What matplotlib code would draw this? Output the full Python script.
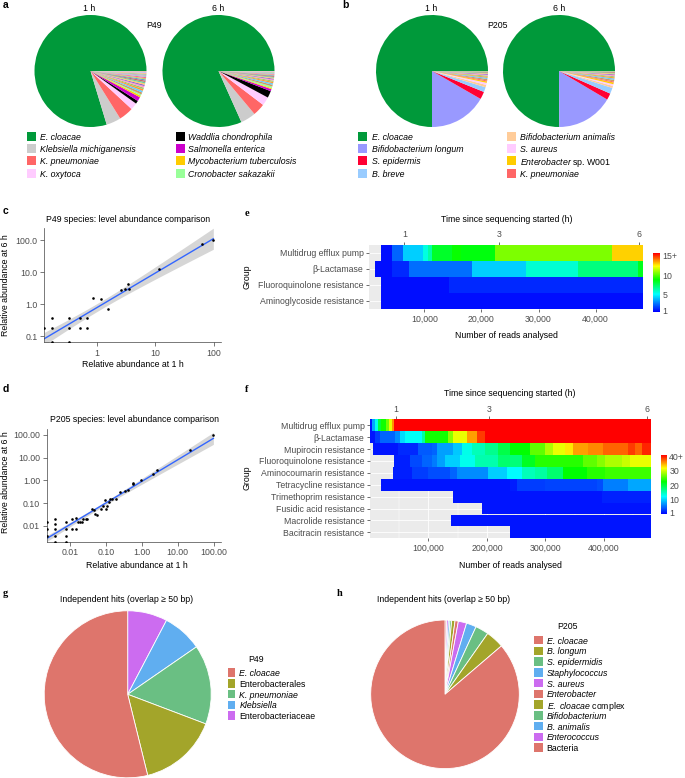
import numpy as np
import matplotlib
matplotlib.use('Agg')
from matplotlib import pyplot as plt
from matplotlib.cm import ScalarMappable
from matplotlib.colors import LinearSegmentedColormap, Normalize
from matplotlib.patches import Rectangle
from matplotlib.ticker import FuncFormatter, NullLocator

# ---------------- data ----------------

# a: P49 species share (%) at 1 h and 6 h
p49_species = ['E. cloacae', 'Klebsiella michiganensis', 'K. pneumoniae', 'K. oxytoca',
               'Waddlia chondrophila', 'Salmonella enterica', 'Mycobacterium tuberculosis',
               'Cronobacter sakazakii']
p49_colors = ['#00993A', '#CCCCCC', '#FF6666', '#FFCCFF', '#000000', '#CC00CC', '#FFCC00', '#99FF99']
p49_1h = [79.4, 4.2, 4.2, 2.0, 0.9, 1.2, 0.5, 0.4]
p49_6h = [82.2, 4.4, 3.6, 2.5, 2.0, 0.6, 0.3, 0.5]
p49_1h_other = [0.6, 0.5, 0.5, 0.45, 0.45, 0.4, 0.4, 0.4, 0.4, 0.35, 0.35, 0.35, 0.3, 0.3, 0.3, 0.3, 0.25, 0.25]
p49_6h_other = [0.5, 0.45, 0.4, 0.35, 0.3, 0.3, 0.25, 0.25, 0.25, 0.2, 0.2, 0.2, 0.2, 0.15, 0.15, 0.15, 0.1, 0.1]

# b: P205 species share (%)
p205_species = ['E. cloacae', 'Bifidobacterium longum', 'S. epidermis', 'B. breve',
                'Bifidobacterium animalis', 'S. aureus', r'$\it{Enterobacter}$ sp. W001', 'K. pneumoniae']
p205_italic = [True, True, True, True, True, True, False, True]
p205_colors = ['#00993A', '#9999FF', '#FF0033', '#99CCFF', '#FFCC99', '#FFCCFF', '#FFCC00', '#FF6666']
p205_1h = [75.0, 16.7, 2.2, 1.4, 0.7, 0.6, 0.4, 0.3]
p205_6h = [75.0, 16.4, 1.9, 1.7, 0.6, 0.5, 0.5, 0.3]
p205_1h_other = [0.4, 0.35, 0.3, 0.3, 0.25, 0.25, 0.2, 0.2, 0.15, 0.15, 0.15]
p205_6h_other = [0.45, 0.4, 0.35, 0.3, 0.3, 0.25, 0.25, 0.2, 0.2, 0.15, 0.15]

other_colors = ['#CC9966', '#66CCFF', '#FF9933', '#99CC66', '#FF99CC', '#9966CC', '#FFCC66', '#66CC99',
                '#CC6666', '#6699CC', '#CCCC66', '#FF6699', '#99CCCC', '#CC99CC', '#99CC99', '#FFB380',
                '#B3B3FF', '#E6B3B3']

# c: P49 relative abundance at 1 h vs 6 h
p49_ab_1h = [0.126, 0.173, 0.173, 0.173, 0.338, 0.338, 0.338, 0.51, 0.51, 0.68, 0.68,
             0.855, 1.17, 1.52, 2.53, 3.04, 3.33, 3.55, 11.4, 62.4, 97.5]
p49_ab_6h = [0.187, 0.365, 0.178, 0.068, 0.365, 0.178, 0.068, 0.365, 0.178, 0.365, 0.178,
             1.61, 1.43, 0.715, 2.74, 3.01, 4.12, 3.0, 12.7, 75, 102]

# d: P205 relative abundance at 1 h vs 6 h
p205_ab_1h = [0.00235, 0.00235, 0.00235, 0.0038, 0.0038, 0.0038, 0.0038, 0.0038,
              0.0076, 0.0076, 0.0076, 0.0076, 0.0111, 0.0111, 0.0147, 0.0147,
              0.017, 0.019, 0.022, 0.0235, 0.027, 0.030, 0.0408, 0.0454, 0.0506, 0.0562,
              0.0711, 0.0808, 0.0918, 0.100, 0.109, 0.121, 0.132, 0.150, 0.19,
              0.245, 0.344, 0.408, 0.562, 0.576, 0.918, 1.98, 2.72, 21.5, 98]
p205_ab_6h = [0.015, 0.0076, 0.0036, 0.019, 0.0115, 0.0076, 0.0036, 0.002,
              0.015, 0.0076, 0.0036, 0.002, 0.019, 0.0076, 0.0224, 0.0076,
              0.015, 0.015, 0.015, 0.019, 0.019, 0.019, 0.0556, 0.0485, 0.0336, 0.0293,
              0.0556, 0.0726, 0.133, 0.057, 0.075, 0.112, 0.157, 0.157, 0.157,
              0.308, 0.341, 0.365, 0.668, 0.764, 1.07, 1.96, 2.74, 21.3, 100]

# e: P49 resistance groups, hits vs reads analysed
e_groups = ['Multidrug efflux pump', 'β-Lactamase', 'Fluoroquinolone resistance', 'Aminoglycoside resistance']
e_edges = [[2420, 4290, 6330, 9830, 10700, 11300, 14900, 16430, 22380, 42820, 48300],
           [1370, 4290, 7320, 18300, 27810, 36860, 47370, 48300],
           [2420, 14330, 48300],
           [2420, 48300]]
e_values = [[1, 2.5, 4.4, 5.65, 6.5, 8.3, 9.0, 8.7, 10.6, 12.9],
            [1, 1.5, 2.7, 4.4, 5.9, 7.1, 8.5],
            [1, 1.5],
            [1]]
e_read_ticks = [10000, 20000, 30000, 40000]
e_hour_reads = [6500, 23080, 47600]
hour_labels = ['1', '3', '6']

# f: P205 resistance groups
f_groups = ['Multidrug efflux pump', 'β-Lactamase', 'Mupirocin resistance', 'Fluoroquinolone resistance',
            'Aminocoumarin resistance', 'Tetracycline resistance', 'Trimethoprim resistance',
            'Fusidic acid resistance', 'Macrolide resistance', 'Bacitracin resistance']
f_edges = [[340, 4270, 8900, 13500, 19100, 27200, 32800, 37400, 40900, 479800],
           [340, 7700, 17400, 43100, 51600, 60200, 88700, 94400, 134200, 142700, 165600, 182700, 196900, 479800],
           [4300, 48000, 82900, 105800, 114400, 142700, 157100, 174200, 196900, 219700, 239700, 273800,
            299500, 313700, 333700, 347900, 373500, 399100, 441900, 453300, 464800, 479800],
           [40200, 68700, 88700, 105800, 114400, 128500, 154200, 179800, 219700, 239700, 259700, 282400,
            365000, 387900, 402100, 430600, 444800, 479800],
           [38500, 71600, 100000, 137100, 148500, 202600, 234000, 259700, 282400, 302400, 330800, 370800,
            402100, 479800],
           [19100, 239700, 252100, 299500, 387900, 399100, 441900, 479800],
           [142700, 396400, 479800],
           [192300, 479800],
           [138800, 479800],
           [239700, 479800]]
f_values = [[1, 8, 13, 20, 23, 26.5, 31, 35.5, 45],
            [1, 2.9, 4.8, 6.7, 10.5, 12.5, 16, 23, 27.3, 31, 35, 38.6, 45],
            [1, 2, 4.3, 4.8, 7.7, 9.6, 13.1, 15, 16.7, 19.5, 22.4, 25.9, 28.7, 31, 32.5, 35, 35.8, 37.2,
             38.6, 37.2, 39.3],
            [1.5, 3.5, 4.8, 6, 7.7, 10, 13, 15.5, 18, 17.5, 21, 23.8, 25.9, 27.3, 28.7, 29.7, 31],
            [1.5, 2.9, 3.8, 4.8, 6.7, 10, 12.2, 15, 16, 18, 22.4, 23.8, 24.5],
            [1, 1.4, 2.9, 3.3, 3.8, 6.2, 8.1],
            [1, 1.6],
            [1],
            [1],
            [1]]
f_read_ticks = [100000, 200000, 300000, 400000]
f_hour_reads = [44800, 204300, 473000]

# g, h: independent hits per taxon
g_taxa = ['E. cloacae', 'Enterobacterales', 'K. pneumoniae', 'Klebsiella', 'Enterobacteriaceae']
g_italic = [True, False, True, True, False]
g_hits = [7, 2, 2, 1, 1]
g_colors = ['#DE756C', '#A3A52A', '#6ABF83', '#60AEF0', '#CC6CF0']

h_taxa = ['E. cloacae', 'B. longum', 'S. epidermidis', 'Staphylococcus', 'S. aureus', 'Enterobacter',
          r'$\it{E.}$ $\it{cloacae}$ complex', 'Bifidobacterium', 'B. animalis', 'Enterococcus', 'Bacteria']
h_italic = [True, True, True, True, True, True, False, True, True, True, False]
h_hits = [239, 11, 8, 6, 5, 2, 2, 1, 1, 1, 1]
h_colors = ['#DE756C', '#A3A52A', '#6ABF83', '#60AEF0', '#CC6CF0'] * 2 + ['#DE756C']

T_CRIT = 2.05

# ---------------- figure ----------------

W, H = 685, 778
plt.rcParams['font.family'] = ['Liberation Sans', 'DejaVu Sans']
plt.rcParams['font.size'] = 6.3
plt.rcParams['mathtext.fontset'] = 'custom'
plt.rcParams['mathtext.it'] = 'Liberation Sans:italic'
plt.rcParams['mathtext.rm'] = 'Liberation Sans'

fig = plt.figure(figsize=(W / 100, H / 100), dpi=100)

TXT = '#4D4D4D'


def px_axes(x0, y0, x1, y1):
    return fig.add_axes([x0 / W, 1 - y1 / H, (x1 - x0) / W, (y1 - y0) / H])


def put(x, y, s, **kw):
    kw.setdefault('ha', 'center')
    kw.setdefault('va', 'center')
    fig.text(x / W, 1 - y / H, s, **kw)


def draw_keys(x_key, x_text, y_first, step, labels, colors, italic, kw=9, kh=9):
    for i, (lab, col, it) in enumerate(zip(labels, colors, italic)):
        y = y_first + i * step
        fig.add_artist(Rectangle((x_key / W, 1 - (y + kh / 2) / H), kw / W, kh / H,
                                 transform=fig.transFigure, facecolor=col, edgecolor='none'))
        put(x_text, y, lab, ha='left', va='center_baseline', style='italic' if it else 'normal')


def small_pie(cx, cy, r, values, colors):
    ax = px_axes(cx - r, cy - r, cx + r, cy + r)
    ax.pie(values, colors=colors, startangle=0, counterclock=True,
           wedgeprops=dict(linewidth=0))
    ax.set_xlim(-1, 1)
    ax.set_ylim(-1, 1)
    ax.axis('off')


# a / b
small_pie(90.5, 71, 56, p49_1h + p49_1h_other, p49_colors + other_colors)
small_pie(218.5, 71, 56, p49_6h + p49_6h_other, p49_colors + other_colors)
small_pie(432, 71, 56, p205_1h + p205_1h_other, p205_colors + other_colors)
small_pie(559, 71, 56, p205_6h + p205_6h_other, p205_colors + other_colors)
put(89, 8.5, '1 h'); put(218, 8.5, '6 h')
put(431.5, 8.5, '1 h'); put(559, 8.5, '6 h')
put(154, 25, 'P49'); put(497, 25, 'P205')

draw_keys(26.7, 40, 136.3, 12.3, p49_species[:4], p49_colors[:4], [True] * 4)
draw_keys(175.7, 188.3, 136.3, 12.3, p49_species[4:], p49_colors[4:], [True] * 4)
draw_keys(358.3, 371.7, 136.3, 12.3, p205_species[:4], p205_colors[:4], p205_italic[:4])
draw_keys(506.7, 520, 136.3, 12.3, p205_species[4:], p205_colors[4:], p205_italic[4:])


# c / d scatter with log-log linear fit
def fit_line(ax, x, y):
    lx, ly = np.log10(x), np.log10(y)
    b, a = np.polyfit(lx, ly, 1)
    n = len(lx)
    s = np.sqrt(np.sum((ly - (a + b * lx)) ** 2) / (n - 2))
    gx = np.linspace(lx.min(), lx.max(), 100)
    gy = a + b * gx
    se = s * np.sqrt(1 / n + (gx - lx.mean()) ** 2 / np.sum((lx - lx.mean()) ** 2))
    ax.fill_between(10 ** gx, 10 ** (gy - T_CRIT * se), 10 ** (gy + T_CRIT * se),
                    color='#999999', alpha=0.4, lw=0, zorder=1)
    ax.plot(10 ** gx, 10 ** gy, color='#3366FF', lw=1.0, zorder=2)


def style_scatter(ax):
    for side in ('top', 'right'):
        ax.spines[side].set_visible(False)
    for side in ('left', 'bottom'):
        ax.spines[side].set_linewidth(0.5)
        ax.spines[side].set_color('#444444')
    ax.xaxis.set_minor_locator(NullLocator())
    ax.yaxis.set_minor_locator(NullLocator())
    ax.tick_params(length=3, width=0.5, color='#444444', labelcolor=TXT, pad=1.7)


ax = px_axes(44, 228, 221, 342)
ax.set_xscale('log'); ax.set_yscale('log')
fit_line(ax, np.array(p49_ab_1h), np.array(p49_ab_6h))
ax.scatter(p49_ab_1h, p49_ab_6h, s=3.5, color='black', lw=0, zorder=3)
ax.set_xlim(0.124, 132); ax.set_ylim(0.0664, 237)
ax.set_xticks([1, 10, 100], labels=['1', '10', '100'])
ax.set_yticks([0.1, 1, 10, 100], labels=['0.1', '1.0', '10.0', '100.0'])
style_scatter(ax)
put(128, 219, 'P49 species: level abundance comparison')
put(132.7, 365, 'Relative abundance at 1 h')
put(6, 285, 'Relative abundance at 6 h', rotation=90)

ax = px_axes(46.7, 429, 221, 541.7)
ax.set_xscale('log'); ax.set_yscale('log')
fit_line(ax, np.array(p205_ab_1h), np.array(p205_ab_6h))
ax.scatter(p205_ab_1h, p205_ab_6h, s=3.5, color='black', lw=0, zorder=3)
ax.set_xlim(0.00224, 160); ax.set_ylim(0.002, 180)
dticks = [0.01, 0.1, 1, 10, 100]
dlabels = ['0.01', '0.10', '1.00', '10.00', '100.00']
ax.set_xticks(dticks, labels=dlabels)
ax.set_yticks(dticks, labels=dlabels)
style_scatter(ax)
put(134, 419, 'P205 species: level abundance comparison')
put(136.7, 565.7, 'Relative abundance at 1 h')
put(5.5, 481.7, 'Relative abundance at 6 h', rotation=90)

# e / f heatmaps
heat_cmap = LinearSegmentedColormap.from_list(
    'hits', [(0, '#0000FF'), (0.3, '#00FFFF'), (0.55, '#00FF00'), (0.78, '#FFFF00'), (1, '#FF0000')])
comma = FuncFormatter(lambda v, p: f'{int(v):,}')


def heatmap(box, groups, edges, values, norm, xlim, read_ticks, hour_reads):
    ax = px_axes(*box)
    ax.set_facecolor('#EBEBEB')
    for i, (ed, vals) in enumerate(zip(edges, values)):
        ed = np.array(ed)
        ax.barh(i, np.diff(ed), left=ed[:-1], height=1.0, color=heat_cmap(norm(vals)),
                linewidth=0, antialiased=False, zorder=2)
    ax.set_xlim(*xlim)
    ax.set_ylim(len(groups) - 0.5, -0.5)
    ax.set_yticks(range(len(groups)), labels=groups)
    ax.set_xticks(read_ticks)
    ax.xaxis.set_major_formatter(comma)
    ax.set_xticks([t - read_ticks[0] / 2 for t in read_ticks] + [read_ticks[-1] + read_ticks[0] / 2],
                  minor=True)
    ax.grid(True, which='major', color='white', lw=0.6, zorder=0)
    ax.grid(True, which='minor', axis='x', color='white', lw=0.3, zorder=0)
    ax.set_axisbelow(True)
    for sp in ax.spines.values():
        sp.set_visible(False)
    ax.tick_params(which='major', length=2.5, width=0.5, color='#333333', labelcolor=TXT, pad=1.5)
    ax.tick_params(which='minor', length=0)
    sec = ax.secondary_xaxis('top')
    sec.set_xticks(hour_reads, labels=hour_labels)
    sec.tick_params(length=2.5, width=0.5, color='#333333', labelcolor=TXT, pad=1.5)
    for sp in sec.spines.values():
        sp.set_visible(False)
    return ax


def colorbar(box, norm, ticks, labels):
    cax = px_axes(*box)
    cb = fig.colorbar(ScalarMappable(norm=norm, cmap=heat_cmap), cax=cax)
    cb.set_ticks(ticks, labels=labels)
    cb.outline.set_visible(False)
    cax.tick_params(length=0, pad=2, labelcolor=TXT)


e_norm = Normalize(0.75, 15.6, clip=True)
heatmap((369, 245, 643, 309), e_groups, e_edges, e_values, e_norm, (315, 48300), e_read_ticks, e_hour_reads)
colorbar((653.3, 253.3, 659.5, 311.7), e_norm, [1, 5, 10, 15], ['1', '5', '10', '15+'])
put(506.5, 220, 'Time since sequencing started (h)')
put(506, 335, 'Number of reads analysed')
put(246.7, 277, 'Group', rotation=90)

f_norm = Normalize(0, 40.7, clip=True)
heatmap((370, 419.3, 650.5, 538.3), f_groups, f_edges, f_values, f_norm, (0, 479800), f_read_ticks, f_hour_reads)
colorbar((660.7, 455, 666.5, 514.3), f_norm, [1, 10, 20, 30, 40], ['1', '10', '20', '30', '40+'])
put(510, 393.3, 'Time since sequencing started (h)')
put(510, 565, 'Number of reads analysed')
put(247, 478, 'Group', rotation=90)


# g / h pies
def hits_pie(cx, cy, r, hits, colors):
    ax = px_axes(cx - r, cy - r, cx + r, cy + r)
    ax.pie(hits[::-1], colors=colors[::-1], startangle=90, counterclock=False,
           wedgeprops=dict(edgecolor='white', linewidth=0.6))
    ax.set_xlim(-1, 1)
    ax.set_ylim(-1, 1)
    ax.axis('off')


hits_pie(127.7, 694.3, 83.5, g_hits, g_colors)
put(127, 600, 'Independent hits (overlap ≥ 50 bp)')
put(255.8, 660, 'P49')
draw_keys(227.7, 239.3, 672.7, 10.75, g_taxa, g_colors, g_italic, kw=7.5, kh=8.5)

hits_pie(445, 694.3, 74.3, h_hits, h_colors)
put(444, 600, 'Independent hits (overlap ≥ 50 bp)')
put(567, 626.7, 'P205')
draw_keys(534.3, 546.7, 640, 10.77, h_taxa, h_colors, h_italic, kw=8.3, kh=8.5)

# panel letters
for lab, x, y, fam in [('a', 3, 5, 'sans'), ('b', 342, 5, 'sans'), ('c', 3, 211, 'sans'),
                       ('d', 3, 389, 'sans'), ('e', 245, 214, 'serif'), ('f', 245, 390, 'serif'),
                       ('g', 3, 594, 'serif'), ('h', 337, 594, 'serif')]:
    family = ['Liberation Sans'] if fam == 'sans' else ['Liberation Serif']
    put(x, y, lab, fontweight='bold', fontsize=7.5, family=family, ha='left')

fig.savefig('out.png', dpi=100)
